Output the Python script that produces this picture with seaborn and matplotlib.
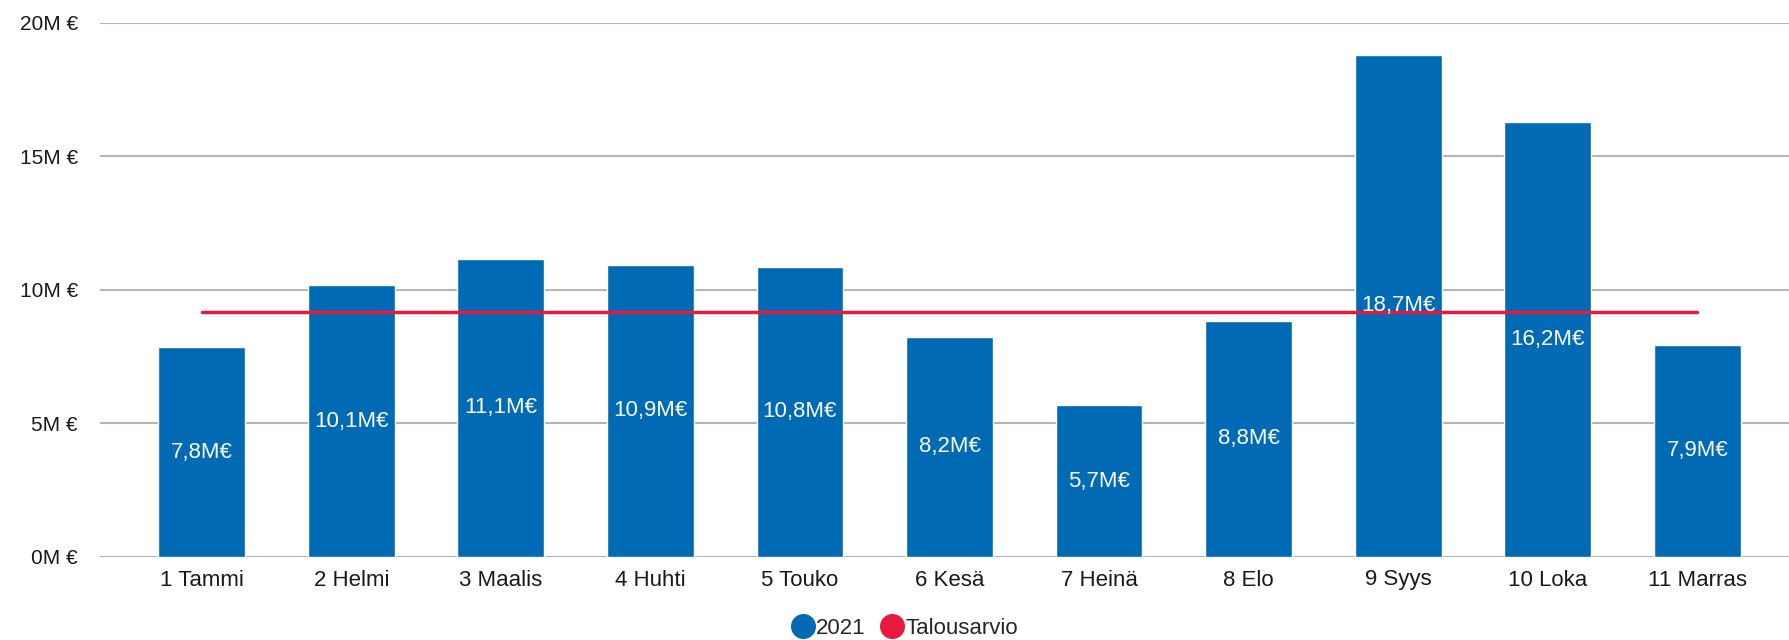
import pandas as pd
import seaborn as sns
import matplotlib.pyplot as plt
from matplotlib.lines import Line2D

# data (millions of euros)
months = ["1 Tammi", "2 Helmi", "3 Maalis", "4 Huhti", "5 Touko", "6 Kesä",
          "7 Heinä", "8 Elo", "9 Syys", "10 Loka", "11 Marras"]
values_2021 = [7.86, 10.18, 11.16, 10.94, 10.86, 8.25, 5.68, 8.85, 18.81, 16.29, 7.95]
bar_labels = ["7,8M€", "10,1M€", "11,1M€", "10,9M€", "10,8M€", "8,2M€",
              "5,7M€", "8,8M€", "18,7M€", "16,2M€", "7,9M€"]
budget = [9.17] * 11
y_ticks = [0, 5, 10, 15, 20]
y_tick_labels = ["0M €", "5M €", "10M €", "15M €", "20M €"]

BLUE = "#006AB4"
RED = "#E8193C"

sns.set_style("white")
plt.rcParams["font.family"] = ["Liberation Sans", "DejaVu Sans"]

df = pd.DataFrame({"month": months, "value": values_2021, "budget": budget})
df["pos"] = range(len(months))

fig = plt.figure(figsize=(17.9, 6.4), dpi=100)
ax = fig.add_axes([100 / 1790, 1 - 557 / 640, 1 - 100 / 1790, (557 - 22.8) / 640])

sns.barplot(data=df, x="month", y="value", color=BLUE, width=0.58,
            saturation=1, ax=ax, zorder=2)
sns.lineplot(data=df, x="pos", y="budget", color=RED, linewidth=2.5,
             ax=ax, zorder=3, solid_capstyle="round")

# value labels centred in the bars
for i, (v, lab) in enumerate(zip(values_2021, bar_labels)):
    ax.text(i, v / 2, lab, ha="center", va="center", color="white",
            fontsize=16, zorder=4)

ax.set_ylim(0, 20)
ax.set_xlim(-0.68, 10.62)
ax.set_yticks(y_ticks)
ax.set_yticklabels(y_tick_labels)
ax.yaxis.grid(True, color="#B5B5B5", linewidth=1.5, zorder=0)
ax.set_axisbelow(True)
for s in ax.spines.values():
    s.set_visible(False)
ax.tick_params(axis="both", length=0, labelcolor="#1a1a1a")
ax.tick_params(axis="y", pad=16, labelsize=15)
ax.tick_params(axis="x", pad=9, labelsize=16)
ax.set_xlabel("")
ax.set_ylabel("")

handles = [
    Line2D([], [], marker="o", linestyle="", markersize=17,
           markerfacecolor=BLUE, markeredgecolor=BLUE, label="2021"),
    Line2D([], [], marker="o", linestyle="", markersize=17,
           markerfacecolor=RED, markeredgecolor=RED, label="Talousarvio"),
]
fig.legend(handles=handles, loc="lower center", bbox_to_anchor=(0.505, -0.03),
           ncol=2, frameon=False, fontsize=16, handletextpad=0.0,
           columnspacing=0.6, handlelength=1.2)

fig.savefig("out.png", dpi=100)
